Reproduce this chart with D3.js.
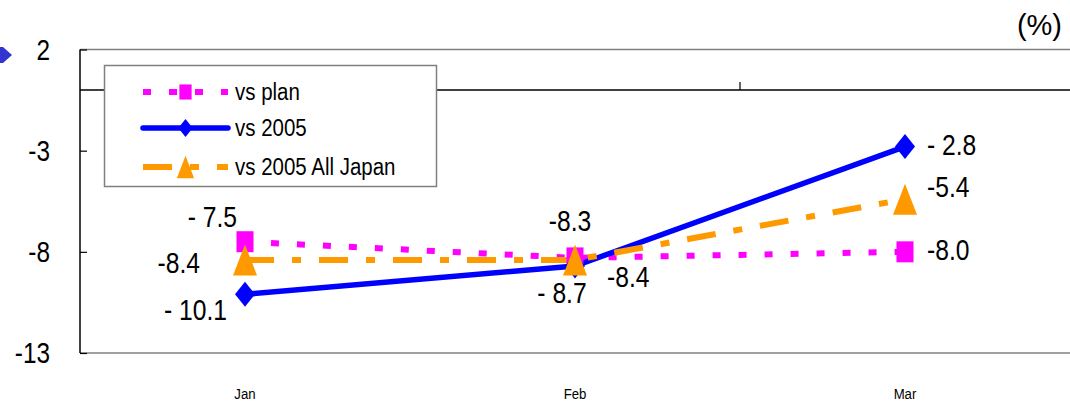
<!DOCTYPE html>
<html>
<head>
<meta charset="utf-8">
<script src="https://cdn.jsdelivr.net/npm/d3@7"></script>
<style>
  html, body { margin: 0; padding: 0; background: #fff; overflow: hidden; }
  svg { display: block; }
  text { font-family: "Liberation Sans", Arial, sans-serif; fill: #000; }
</style>
</head>
<body>
<svg id="chart" width="1070" height="401"></svg>
<script>
// Monthly change (%) by series
const months = ["Jan", "Feb", "Mar"];
const vsPlan = [-7.5, -8.3, -8.0];
const vs2005 = [-10.1, -8.7, -2.8];
const vs2005AllJapan = [-8.4, -8.4, -5.4];
const seriesNames = ["vs plan", "vs 2005", "vs 2005 All Japan"];
const yTicks = [2, -3, -8, -13];
const unitLabel = "(%)";

const plot = { left: 80, right: 1070, top: 49.5, bottom: 353 };

const svg = d3.select("#chart");

const x = d3.scalePoint().domain(months).range([plot.left, plot.right]).padding(0.5);
const y = d3.scaleLinear().domain([-13, 2]).range([plot.bottom, plot.top]);

// Series styling and label placement (offsets from each point)
const series = [
  { name: seriesNames[0], values: vsPlan, color: "#ff00ff", width: 6, dash: "8,18", marker: "square",
    labels: [ { dx: -8, dy: -15, anchor: "end", spaced: true },
              { dx: -5, dy: -27, anchor: "middle", spaced: false },
              { dx: 22, dy: 8, anchor: "start", spaced: false } ] },
  { name: seriesNames[1], values: vs2005, color: "#0000ff", width: 5.5, dash: null, marker: "diamond",
    labels: [ { dx: -18, dy: 26, anchor: "end", spaced: true },
              { dx: -13, dy: 37, anchor: "middle", spaced: true },
              { dx: 22, dy: 8, anchor: "start", spaced: true } ] },
  { name: seriesNames[2], values: vs2005AllJapan, color: "#ff9900", width: 6, dash: "29,18,9,18", marker: "triangle",
    labels: [ { dx: -45, dy: 13, anchor: "end", spaced: false },
              { dx: 32, dy: 27, anchor: "start", spaced: false },
              { dx: 22, dy: -2, anchor: "start", spaced: false } ] }
];

// Horizontally condensed text placed at (px, py)
function narrowText(sel, px, py, sx) {
  return sel
    .attr("x", 0).attr("y", 0)
    .attr("transform", (d, i) => `translate(${typeof px === "function" ? px(d, i) : px},${typeof py === "function" ? py(d, i) : py}) scale(${sx},1)`);
}

function markerPath(type, s) {
  if (type === "square") {
    const w = 8.5 * s, h = 10.5 * s;
    return `M${-w},${-h}H${w}V${h}H${-w}Z`;
  }
  if (type === "diamond") {
    const w = 10 * s, h = 12.5 * s;
    return `M0,${-h}L${w},0L0,${h}L${-w},0Z`;
  }
  const w = 12 * s, h = 15.5 * s;
  return `M0,${-h}L${w},${h}L${-w},${h}Z`;
}

// Small arrow glyph at the top-left edge
svg.append("path")
  .attr("d", "M0,47L3,47L12,55L3,63L0,63Z")
  .attr("fill", "#3434d0");

// Frame: gray top and bottom borders
svg.append("line").attr("x1", plot.left).attr("x2", plot.right).attr("y1", plot.top).attr("y2", plot.top)
  .attr("stroke", "#808080").attr("stroke-width", 1.5);
svg.append("line").attr("x1", plot.left).attr("x2", plot.right).attr("y1", plot.bottom).attr("y2", plot.bottom)
  .attr("stroke", "#808080").attr("stroke-width", 1.5);

// Y axis with inward ticks
const yAxis = d3.axisRight(y).tickValues(yTicks).tickSize(7).tickFormat("");
const yg = svg.append("g").attr("transform", `translate(${plot.left},0)`).call(yAxis);
yg.select(".domain").attr("stroke", "#000").attr("stroke-width", 1.5).attr("d", `M0,${plot.top}V${plot.bottom}`);
yg.selectAll(".tick line").attr("stroke", "#000").attr("stroke-width", 1.2);

svg.append("g").selectAll("text").data(yTicks).join("text")
  .call(narrowText, 50, d => y(d) + 10, 0.84)
  .attr("text-anchor", "end")
  .style("font-size", "29px")
  .text(d => d);

// Zero line acting as category axis, ticks upward at category boundaries
const xAxis = d3.axisTop(x).tickSize(0).tickFormat("");
const xg = svg.append("g").attr("transform", `translate(0,${y(0)})`).call(xAxis);
xg.select(".domain").attr("stroke", "#000").attr("stroke-width", 1.5).attr("d", `M${plot.left},0H${plot.right}`);
const step = x.step();
xg.selectAll(".boundary").data(months.slice(0, -1)).join("line")
  .attr("class", "boundary")
  .attr("x1", d => x(d) + step / 2).attr("x2", d => x(d) + step / 2)
  .attr("y1", 0).attr("y2", -8)
  .attr("stroke", "#000").attr("stroke-width", 1.2);

// Category labels below the plot
svg.append("g").selectAll("text").data(months).join("text")
  .call(narrowText, d => x(d), 399, 0.88)
  .attr("text-anchor", "middle")
  .style("font-size", "15px")
  .text(d => d);

// Unit label
svg.append("text").attr("x", 1062).attr("y", 35).attr("text-anchor", "end")
  .style("font-size", "29px").text(unitLabel);

// Lines
const line = d3.line().x((d, i) => x(months[i])).y(d => y(d));
series.forEach(s => {
  svg.append("path")
    .datum(s.values)
    .attr("d", line)
    .attr("fill", "none")
    .attr("stroke", s.color)
    .attr("stroke-width", s.width)
    .attr("stroke-dasharray", s.dash)
    .attr("stroke-linejoin", "round");
});

// Markers
series.forEach(s => {
  svg.append("g").selectAll("path").data(s.values).join("path")
    .attr("transform", (d, i) => `translate(${x(months[i])},${y(d)})`)
    .attr("d", markerPath(s.marker, 1))
    .attr("fill", s.color);
});

// Data labels
const fmt = d3.format(".1f");
series.forEach(s => {
  svg.append("g").selectAll("text").data(s.values).join("text")
    .call(narrowText, (d, i) => x(months[i]) + s.labels[i].dx, (d, i) => y(d) + s.labels[i].dy, 0.85)
    .attr("text-anchor", (d, i) => s.labels[i].anchor)
    .style("font-size", "29px")
    .text((d, i) => {
      const t = fmt(Math.abs(d));
      return (d < 0 ? (s.labels[i].spaced ? "- " : "-") : "") + t;
    });
});

// Legend
const legend = svg.append("g");
legend.append("rect")
  .attr("x", 104.5).attr("y", 65.5).attr("width", 332).attr("height", 121)
  .attr("fill", "#fff").attr("stroke", "#808080").attr("stroke-width", 1.5);
const rowY = [92, 128, 167];
series.forEach((s, i) => {
  const g = legend.append("g");
  g.append("line")
    .attr("x1", 143).attr("x2", 228).attr("y1", rowY[i]).attr("y2", rowY[i])
    .attr("stroke", s.color).attr("stroke-width", s.width)
    .attr("stroke-dasharray", s.dash)
    .attr("stroke-linecap", s.dash ? "butt" : "round");
  g.append("path")
    .attr("transform", `translate(185.5,${rowY[i]})`)
    .attr("d", markerPath(s.marker, 0.72))
    .attr("fill", s.color);
  g.append("text")
    .call(narrowText, 235, rowY[i] + 8, 0.89)
    .style("font-size", "23px")
    .text(s.name);
});
</script>
</body>
</html>
